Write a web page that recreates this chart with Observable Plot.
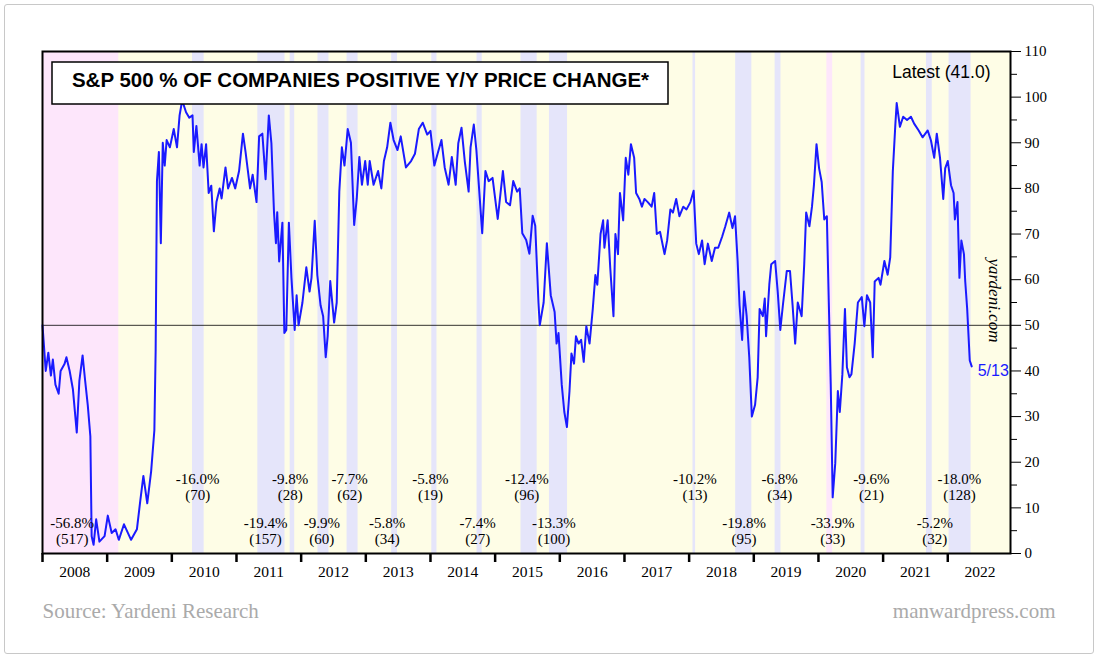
<!DOCTYPE html>
<html><head><meta charset="utf-8">
<script src="https://cdn.jsdelivr.net/npm/d3@7"></script>
<script src="https://cdn.jsdelivr.net/npm/@observablehq/plot@0.6"></script>
<style>
body{margin:0;background:#fff;}
#wrap{position:relative;width:1100px;height:661px;overflow:hidden;}
#border{position:absolute;left:4px;top:4px;width:1090px;height:650px;border:1px solid #c8c8c8;border-radius:3px;box-sizing:border-box;}
#chart{position:absolute;left:0;top:0;}
</style></head>
<body><div id="wrap"><div id="border"></div><div id="chart"></div></div>
<script>
// [decimal year, % of companies with positive y/y price change]
const series = [
[2008.00,50],[2008.05,40],[2008.09,44],[2008.13,39],[2008.16,42.5],[2008.20,37],[2008.25,35],[2008.28,40],[2008.34,41.5],[2008.37,43],[2008.42,40],[2008.47,36],[2008.53,26.5],[2008.57,37.8],[2008.62,43.4],[2008.66,37.8],[2008.70,32.5],[2008.74,25.7],[2008.76,3.8],[2008.79,1.9],[2008.83,7.5],[2008.88,2.6],[2008.96,3.8],[2009.01,8.3],[2009.07,4.5],[2009.13,5.3],[2009.18,3],[2009.26,6.4],[2009.37,3],[2009.46,5.3],[2009.51,11.3],[2009.56,17],[2009.62,11],[2009.68,18],[2009.73,27],[2009.75,44.6],[2009.77,81.6],[2009.80,88],[2009.83,68],[2009.86,90],[2009.89,85],[2009.92,90.6],[2009.97,89],[2010.03,93],[2010.08,89],[2010.12,96],[2010.16,99.3],[2010.22,96.7],[2010.27,95.5],[2010.32,96],[2010.34,88],[2010.38,93.7],[2010.43,85],[2010.46,89.7],[2010.49,84.6],[2010.53,89.7],[2010.57,79],[2010.61,80.6],[2010.65,70.6],[2010.69,77],[2010.74,80],[2010.77,77.8],[2010.83,84.6],[2010.87,80],[2010.93,82.3],[2010.98,80],[2011.04,83.8],[2011.10,92],[2011.14,88],[2011.21,80],[2011.25,83],[2011.31,77],[2011.35,91.4],[2011.40,92],[2011.45,82],[2011.50,96],[2011.54,89.9],[2011.58,74.8],[2011.61,68],[2011.63,74.8],[2011.66,64],[2011.71,72.5],[2011.74,48.3],[2011.77,49],[2011.81,72.5],[2011.85,60.4],[2011.90,49],[2011.93,56.6],[2011.96,50],[2012.02,55],[2012.08,62.7],[2012.13,57.4],[2012.16,60.4],[2012.21,72.9],[2012.25,61],[2012.30,54.4],[2012.34,52],[2012.38,43],[2012.41,47.6],[2012.45,59.7],[2012.51,50.6],[2012.55,55],[2012.59,79.3],[2012.63,89],[2012.67,85],[2012.72,93],[2012.77,90],[2012.82,72],[2012.86,77.8],[2012.90,86.9],[2012.94,80.8],[2012.99,86],[2013.03,80.8],[2013.06,86],[2013.12,80.8],[2013.19,83.8],[2013.24,80],[2013.28,86],[2013.33,89],[2013.38,94.4],[2013.43,90.6],[2013.49,88.4],[2013.54,91.4],[2013.62,84.6],[2013.70,86],[2013.76,87.6],[2013.82,93],[2013.88,94.4],[2013.95,91.8],[2014.00,92.6],[2014.06,85],[2014.11,87.6],[2014.17,90.6],[2014.22,84.6],[2014.28,80.8],[2014.33,86.9],[2014.39,80.8],[2014.43,89.9],[2014.48,93.3],[2014.53,86],[2014.59,79.3],[2014.62,89],[2014.67,94],[2014.71,88.4],[2014.80,70.2],[2014.85,83.8],[2014.90,81.6],[2014.96,82.3],[2015.04,73.3],[2015.12,83.8],[2015.17,77],[2015.23,76.3],[2015.28,81.6],[2015.34,79.3],[2015.38,80],[2015.42,70.2],[2015.48,68.7],[2015.53,65.7],[2015.58,74],[2015.62,71.8],[2015.67,55],[2015.69,50],[2015.75,55],[2015.80,68],[2015.86,56.6],[2015.92,52.9],[2015.95,46],[2015.98,48.3],[2016.03,37],[2016.07,31],[2016.11,27.7],[2016.15,35.6],[2016.18,43.8],[2016.22,41.6],[2016.25,47.6],[2016.29,46],[2016.33,46.8],[2016.37,42],[2016.41,49.8],[2016.46,46],[2016.51,53.6],[2016.55,61],[2016.58,58.9],[2016.63,70],[2016.67,73],[2016.69,67],[2016.74,73],[2016.78,62.6],[2016.83,52],[2016.86,70],[2016.90,65.6],[2016.93,79],[2016.98,73],[2017.02,86.7],[2017.06,83],[2017.10,89.7],[2017.15,86.7],[2017.18,79],[2017.23,77.7],[2017.27,76],[2017.31,77.7],[2017.36,77],[2017.42,76],[2017.46,79],[2017.50,70],[2017.55,70.5],[2017.62,65.6],[2017.66,68.6],[2017.71,75.4],[2017.75,74.7],[2017.80,77.7],[2017.85,73.9],[2017.91,76],[2017.96,75.4],[2018.02,77],[2018.07,79.5],[2018.11,67.9],[2018.15,65.6],[2018.20,68.6],[2018.24,63.4],[2018.29,67.9],[2018.35,64.1],[2018.40,67],[2018.45,67],[2018.51,69.4],[2018.56,71.7],[2018.62,74.7],[2018.67,71.3],[2018.71,73.9],[2018.75,64.1],[2018.78,54.4],[2018.82,46.8],[2018.85,57.4],[2018.89,52],[2018.93,43],[2018.97,30],[2019.02,32.6],[2019.06,38.6],[2019.09,53.6],[2019.14,52],[2019.17,55.9],[2019.19,47.6],[2019.24,58.9],[2019.27,63.4],[2019.33,64.1],[2019.37,57.4],[2019.41,49],[2019.45,54.4],[2019.51,61.9],[2019.56,61.9],[2019.60,54.4],[2019.64,46],[2019.68,55],[2019.74,52],[2019.78,63.4],[2019.81,74.7],[2019.86,71.7],[2019.90,76],[2019.93,80.7],[2019.97,89.7],[2020.01,84.4],[2020.05,81.4],[2020.09,73.2],[2020.13,73.9],[2020.16,55],[2020.19,37],[2020.22,12.3],[2020.26,19.8],[2020.30,35.6],[2020.33,31],[2020.37,39.3],[2020.41,53.6],[2020.44,40.8],[2020.48,38.6],[2020.51,39.3],[2020.56,46],[2020.61,55],[2020.67,56.2],[2020.71,49.8],[2020.75,56.6],[2020.80,55],[2020.84,43],[2020.87,59.6],[2020.93,60.4],[2020.96,58.9],[2021.02,64.1],[2021.07,61.1],[2021.11,64.9],[2021.15,83.7],[2021.19,94.2],[2021.21,98.7],[2021.26,93.5],[2021.31,95.7],[2021.37,95],[2021.43,95.7],[2021.48,94.2],[2021.55,92.7],[2021.61,91.2],[2021.69,92.7],[2021.74,90.5],[2021.79,86.7],[2021.83,92],[2021.88,86.7],[2021.93,77.7],[2021.96,84.4],[2022.00,86],[2022.05,80.7],[2022.09,79],[2022.11,73.2],[2022.15,77],[2022.18,60.4],[2022.21,68.6],[2022.25,65.6],[2022.27,59.6],[2022.30,53.6],[2022.34,42.3],[2022.37,41]
];
// correction periods [start, end]
const corrections = [[2010.32,2010.50],[2011.33,2011.75],[2011.83,2011.90],[2012.26,2012.43],[2012.71,2012.88],[2013.40,2013.49],[2014.02,2014.10],[2014.72,2014.80],[2015.40,2015.65],[2015.84,2016.12],[2018.06,2018.10],[2018.72,2018.97],[2019.33,2019.42],[2020.66,2020.72],[2021.67,2021.76],[2022.02,2022.36]];
const bears = [[2008.0,2009.18],[2020.13,2020.22]];
// annotations: [x year, row(0 upper,1 lower), decline, days]
const notes = [[2008.46,1,"-56.8%","(517)"],[2010.40,0,"-16.0%","(70)"],[2011.45,1,"-19.4%","(157)"],[2011.83,0,"-9.8%","(28)"],[2012.32,1,"-9.9%","(60)"],[2012.75,0,"-7.7%","(62)"],[2013.33,1,"-5.8%","(34)"],[2014.00,0,"-5.8%","(19)"],[2014.73,1,"-7.4%","(27)"],[2015.49,0,"-12.4%","(96)"],[2015.91,1,"-13.3%","(100)"],[2018.09,0,"-10.2%","(13)"],[2018.85,1,"-19.8%","(95)"],[2019.40,0,"-6.8%","(34)"],[2020.22,1,"-33.9%","(33)"],[2020.82,0,"-9.6%","(21)"],[2021.80,1,"-5.2%","(32)"],[2022.18,0,"-18.0%","(128)"]];
const years = d3.range(2008, 2023);
const yTicks = d3.range(0, 111, 10);
const yMinor = d3.range(5, 110, 10);

const data = series.map(([x,y])=>({x,y}));
const X0 = 2008, X1 = 2022.97;
const serif = "Liberation Serif, Times New Roman, serif";
const sans = "Liberation Sans, Arial, sans-serif";

const plot = Plot.plot({
  width: 1100, height: 661,
  marginLeft: 42, marginRight: 90, marginTop: 51, marginBottom: 108,
  x: {domain: [X0, X1], axis: null},
  y: {domain: [0, 110], axis: null},
  style: {background: "transparent", overflow: "visible"},
  marks: [
    Plot.rect([{a:X0,b:X1}], {x1:"a", x2:"b", y1:0, y2:110, fill:"#fefde6"}),
    Plot.rect(bears, {x1:d=>d[0], x2:d=>d[1], y1:0, y2:110, fill:"#fde6fb"}),
    Plot.rect(corrections, {x1:d=>d[0], x2:d=>d[1], y1:0, y2:110, fill:"#e5e5fa"}),
    Plot.ruleY([50], {stroke:"#000", strokeWidth:0.8}),
    Plot.line(data, {x:"x", y:"y", stroke:"#1a1aff", strokeWidth:2}),
    Plot.text(notes, {x:d=>d[0], y:d=>d[1]===0?14.6:5.0, text:d=>d[2]+"\n"+d[3], fontFamily:serif, fontSize:15, lineHeight:1.05, fill:"#000"}),
    Plot.frame({stroke:"#000", strokeWidth:2}),
    Plot.axisY({anchor:"right", ticks:yTicks, tickSize:10, tickPadding:4, fontSize:15, fontFamily:serif, tickFormat:d=>d, label:null, color:"#000"}),
    Plot.axisY({anchor:"right", ticks:yMinor, tickSize:6, tickFormat:()=>"", label:null}),
    Plot.axisX({anchor:"bottom", ticks:years, tickSize:9, tickFormat:()=>"", label:null, strokeWidth:2.5}),
    Plot.text(years, {x:d=>d+0.5, y:0, dy:19, text:d=>String(d), fontFamily:serif, fontSize:15.5, fill:"#000"}),
    Plot.text(["S&P 500 % OF COMPANIES POSITIVE Y/Y PRICE CHANGE*"], {frameAnchor:"top-left", dx:318, dy:21, textAnchor:"middle", text:d=>d, fontFamily:sans, fontWeight:"bold", fontSize:20.5, fill:"#000"}),
    Plot.text(["Latest (41.0)"], {frameAnchor:"top-right", dx:-20, dy:14, text:d=>d, fontFamily:sans, fontSize:17.5, fill:"#000", textAnchor:"end"}),
    Plot.text(["yardeni.com"], {frameAnchor:"right", dx:-16, dy:-2, rotate:90, textAnchor:"middle", text:d=>d, fontFamily:serif, fontStyle:"italic", fontSize:17, fill:"#000"}),
    Plot.text([series[series.length-1]], {x:d=>d[0], y:d=>d[1], dx:6, dy:4, text:()=>"5/13", textAnchor:"start", fontFamily:sans, fontSize:16, fill:"#1a1aff"}),
    Plot.text(["Source: Yardeni Research"], {frameAnchor:"bottom-left", dx:0, dy:64, text:d=>d, textAnchor:"start", fontFamily:serif, fontSize:21, fill:"#aaa"}),
    Plot.text(["manwardpress.com"], {frameAnchor:"bottom-right", dx:45, dy:64, text:d=>d, textAnchor:"end", fontFamily:serif, fontSize:21, fill:"#aaa"})
  ]
});
const svg = d3.select(plot);
const tnode = svg.selectAll("text").filter(function(){return this.textContent.startsWith("S&P 500");}).node();
svg.insert("rect", function(){return tnode.closest("g");})
  .attr("x",52).attr("y",62).attr("width",616).attr("height",42)
  .attr("fill","#fff").attr("stroke","#000").attr("stroke-width",1.5);
document.getElementById("chart").appendChild(plot);
</script></body></html>
